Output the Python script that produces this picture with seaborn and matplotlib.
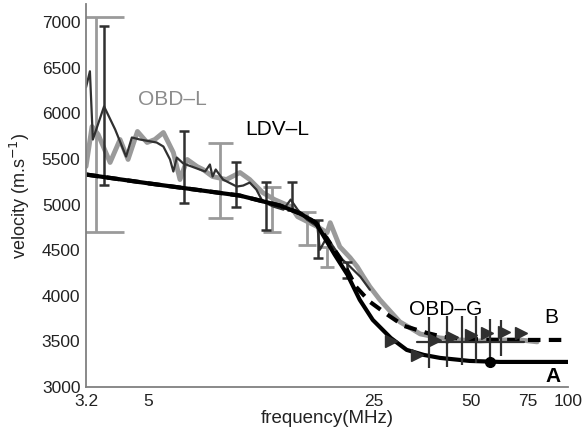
import matplotlib
matplotlib.use('Agg')
import numpy as np
import pandas as pd
import seaborn as sns
import matplotlib.pyplot as plt
from matplotlib.ticker import NullLocator

# model curves A (solid) and B (dashed)
freq_a = [3.2, 5.05, 9.6, 12.8, 14.8, 16.5, 18.9, 20.7, 22.6, 24.8, 28.2, 31.6, 35.7, 40.1, 49.5, 61.5, 100]
vel_a = [5330, 5231, 5099, 4989, 4901, 4802, 4451, 4231, 3956, 3736, 3538, 3407, 3352, 3319, 3286, 3275, 3275]
freq_b = [3.2, 5.05, 9.6, 12.8, 14.8, 16.5, 18.9, 20.6, 22.0, 24.3, 27.6, 31.0, 36.5, 41.0, 48.0, 61.5, 100]
vel_b = [5330, 5231, 5099, 4989, 4901, 4802, 4500, 4290, 4099, 3934, 3791, 3670, 3593, 3549, 3527, 3516, 3516]

# LDV-L measurement (dark thin line)
freq_ldv = [3.2, 3.29, 3.36, 3.64, 3.94, 4.26, 4.44, 4.70, 5.30, 5.56, 5.83, 5.97, 6.12, 6.41, 7.49,
            7.75, 7.90, 8.08, 8.51, 9.39, 9.83, 10.3, 10.8, 11.3, 12.2, 13.1, 13.8, 14.5, 15.5,
            16.7, 17.0, 17.9, 18.7, 20.0, 21.1, 22.7, 24.3]
vel_ldv = [6286, 6462, 5714, 6077, 5824, 5527, 5736, 5714, 5681, 5637, 5495, 5363, 5516, 5451, 5363,
           5440, 5308, 5385, 5275, 5198, 5209, 5242, 5165, 5033, 4978, 4945, 5055, 4945, 4835,
           4758, 4505, 4648, 4538, 4396, 4319, 4209, 4066]

# OBD-L / OBD-G measurement (thick gray line)
freq_obd = [3.2, 3.34, 3.49, 3.80, 4.08, 4.32, 4.62, 4.95, 5.23, 5.56, 5.97, 6.26, 6.59, 7.07, 7.38,
            7.90, 8.72, 9.61, 10.3, 11.3, 12.3, 13.8, 14.5, 16.7, 17.9, 18.3, 19.6, 21.1, 22.2,
            23.2, 24.3, 26.1, 28.2, 30.1, 32.4, 34.8, 40.1, 46.3, 53.4, 61.5, 71.0, 80.2]
vel_obd = [5418, 5857, 5769, 5462, 5714, 5495, 5802, 5681, 5714, 5791, 5571, 5275, 5495, 5418, 5385,
           5308, 5275, 5352, 5275, 5132, 5055, 4978, 4868, 4758, 4692, 4802, 4538, 4418, 4319,
           4209, 4099, 3956, 3824, 3714, 3648, 3582, 3538, 3516, 3505, 3516, 3516, 3495]

# OBD-G triangles
freq_tri = [28.2, 34.0, 38.6, 43.8, 49.9, 56.2, 63.3, 71.3]
vel_tri = [3500, 3352, 3516, 3549, 3571, 3593, 3604, 3593]
freq_tri_line = [34.0, 73.0]
vel_tri_line = [3494, 3494]

# error bars
freq_err_ldv = [3.64, 6.45, 9.34, 11.6, 13.9, 16.8, 20.6]
vel_err_ldv = [6088, 5412, 5220, 4984, 5094, 4625, 4285]
half_err_ldv = [868, 390, 242, 259, 149, 205, 85]

freq_err_obd = [3.44, 8.33, 12.1, 15.5, 17.9]
vel_err_obd = [5879, 5269, 4950, 4742, 4428]
half_err_obd = [1176, 412, 248, 182, 110]
cap_obd = [20, 9, 6.5, 6.5, 5]

freq_err_g = [37.1, 42.2, 46.9, 51.9, 57.3, 62.0]
vel_err_g = [3489, 3500, 3510, 3520, 3530, 3540]
half_err_g = [280, 280, 270, 260, 220, 200]

freq_dot = [57.3]
vel_dot = [3275]

sns.set_theme(style='white')
plt.rcParams['font.family'] = ['Liberation Sans', 'DejaVu Sans']

gray = '#9a9a9a'
dark = '#303030'

fig = plt.figure(figsize=(5.86, 4.43), dpi=100)
ax = fig.add_axes([0.1468, 0.1264, 0.8225, 0.8646])

# gray error bars (cap width differs per bar)
for f, v, e, c in zip(freq_err_obd, vel_err_obd, half_err_obd, cap_obd):
    ax.errorbar([f], [v], yerr=[e], fmt='none', ecolor=gray, elinewidth=2, capsize=c, capthick=2)

sns.lineplot(x=freq_obd, y=vel_obd, ax=ax, color=gray, lw=3.5, sort=False, estimator=None)
sns.lineplot(x=freq_ldv, y=vel_ldv, ax=ax, color=dark, lw=1.6, sort=False, estimator=None)

ax.errorbar(freq_err_ldv, vel_err_ldv, yerr=half_err_ldv, fmt='none', ecolor=dark,
            elinewidth=1.8, capsize=3.6, capthick=1.8)

sns.lineplot(x=freq_b, y=vel_b, ax=ax, color='black', lw=3, linestyle=(0, (3, 2)), sort=False, estimator=None)
sns.lineplot(x=freq_a, y=vel_a, ax=ax, color='black', lw=3, sort=False, estimator=None)

ax.errorbar(freq_err_g, vel_err_g, yerr=half_err_g, fmt='none', ecolor=dark, elinewidth=1.6, capsize=0)
sns.lineplot(x=freq_tri_line, y=vel_tri_line, ax=ax, color=dark, lw=1.6, sort=False, estimator=None)
ax.plot(freq_tri, vel_tri, linestyle='none', marker='>', ms=8, color=dark)
ax.plot(freq_dot, vel_dot, linestyle='none', marker='o', ms=7, color='black')

ax.text(5.91, 6154, 'OBD–L', color='#8c8c8c', fontsize=15, ha='center', va='center')
ax.text(12.5, 5824, 'LDV–L', color='black', fontsize=15, ha='center', va='center')
ax.text(41.6, 3846, 'OBD–G', color='black', fontsize=15, ha='center', va='center')
ax.text(89.0, 3758, 'B', color='black', fontsize=15, ha='center', va='center')
ax.text(90.0, 3110, 'A', color='black', fontsize=15, fontweight='bold', ha='center', va='center')

ax.set_xscale('log')
ax.set_xlim(3.2, 100)
ax.set_ylim(3000, 7200)
ax.set_xticks([3.2, 5, 10, 15, 20, 25, 50, 75, 100])
ax.set_xticklabels(['3.2', '5', '', '', '', '25', '50', '75', '100'])
ax.xaxis.set_minor_locator(NullLocator())
ax.set_yticks([3000, 3500, 4000, 4500, 5000, 5500, 6000, 6500, 7000])

ax.tick_params(axis='x', direction='in', length=4, width=1, colors='#808080', labelcolor='#222222', labelsize=12.5, pad=5)
ax.tick_params(axis='y', direction='out', length=3, width=1, colors='#808080', labelcolor='#222222', labelsize=12.5, pad=1)

for side in ['top', 'right']:
    ax.spines[side].set_visible(False)
for side in ['left', 'bottom']:
    ax.spines[side].set_color('#808080')
    ax.spines[side].set_linewidth(1.3)

ax.set_xlabel('frequency(MHz)', fontsize=13.5, color='#222222', labelpad=1)
ax.set_ylabel('velocity (m.s$^{-1}$)', fontsize=13, color='#222222', labelpad=7)
ax.grid(False)

fig.savefig('out.png', dpi=100)
